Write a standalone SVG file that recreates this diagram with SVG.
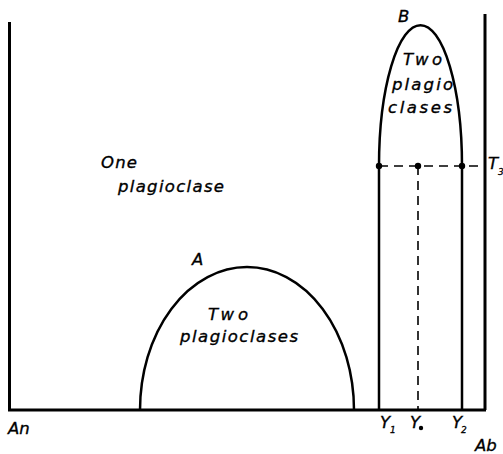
<svg xmlns="http://www.w3.org/2000/svg" width="503" height="454" viewBox="0 0 503 454">
<style>
.ax{stroke:#000;stroke-width:3;fill:none}
.cv{stroke:#000;stroke-width:2.5;fill:none}
.ds{stroke:#000;stroke-width:1.6;fill:none;stroke-dasharray:9 6}
.t{font-family:"DejaVu Sans",sans-serif;font-style:italic;font-size:16.5px;fill:#000;stroke:#000;stroke-width:0.35}
.s{font-family:"DejaVu Sans",sans-serif;font-style:italic;font-size:9px;fill:#000;stroke:#000;stroke-width:0.3}
</style>
<rect width="503" height="454" fill="#fff"/>
<g id="connectors">
<path class="ax" d="M9.5,22 V410 H486 M485,14 V410"/>
<path class="ds" d="M379,166 H486"/>
<path class="ds" d="M418,166 V410"/>
</g>
<g id="domeA">
<path class="cv" d="M140,410 A107,143 0 0 1 354,410"/>
<text class="t" x="192" y="265">A</text>
<text class="t" x="208" y="320" textLength="40" lengthAdjust="spacing">Two</text>
<text class="t" x="180" y="342" textLength="118" lengthAdjust="spacing">plagioclases</text>
</g>
<g id="domeB">
<path class="cv" d="M379,410 V166 A41.5,141 0 0 1 462,166 V410"/>
<circle cx="379" cy="166" r="3.2"/>
<circle cx="418" cy="166" r="3.2"/>
<circle cx="462" cy="166" r="3.2"/>
<text class="t" x="398" y="22">B</text>
<text class="t" x="403" y="65" textLength="39" lengthAdjust="spacing">Two</text>
<text class="t" x="392" y="90" textLength="61" lengthAdjust="spacing">plagio</text>
<text class="t" x="388" y="113" textLength="64" lengthAdjust="spacing">clases</text>
</g>
<g id="one">
<text class="t" x="101" y="168" textLength="36" lengthAdjust="spacing">One</text>
<text class="t" x="118" y="192" textLength="106" lengthAdjust="spacing">plagioclase</text>
</g>
<g id="labels">
<text class="t" x="8" y="434">An</text>
<text class="t" x="475" y="451">Ab</text>
<text class="t" x="488" y="169" font-size="15">T</text>
<text class="s" x="498" y="175">3</text>
<text class="t" x="380" y="428" font-size="13">Y</text>
<text class="s" x="390" y="433">1</text>
<text class="t" x="410" y="428" font-size="13">Y</text>
<circle cx="421" cy="428" r="2.2"/>
<text class="t" x="452" y="428" font-size="13">Y</text>
<text class="s" x="461" y="433">2</text>
</g>
</svg>
